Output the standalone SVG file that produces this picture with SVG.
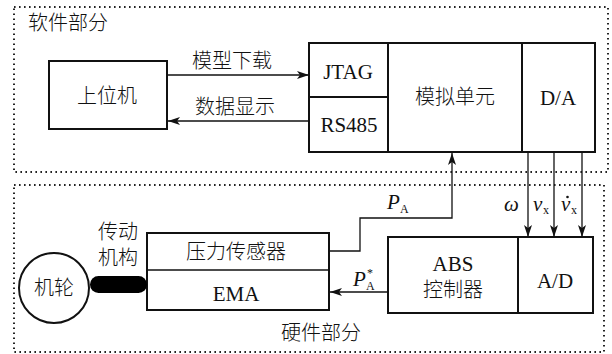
<svg xmlns="http://www.w3.org/2000/svg" width="612" height="354" viewBox="0 0 612 354">
<style>
.zone{fill:none;stroke:#222;stroke-width:2;stroke-dasharray:1.6 3.4}
.box{fill:#fff;stroke:#111;stroke-width:2}
.ln{fill:none;stroke:#111;stroke-width:1.3}
.zh{font-family:"Liberation Serif","Noto Sans CJK SC",serif;font-size:20px;font-weight:300;fill:#111;text-anchor:middle}
.en{font-family:"Liberation Serif",serif;font-size:21px;fill:#111;text-anchor:middle}
.it{font-family:"Liberation Serif",serif;font-style:italic;font-size:21px;fill:#111}
.sub{font-family:"Liberation Serif",serif;font-size:12px;fill:#111}
</style>
<defs>
<marker id="ah" viewBox="0 0 12 8" refX="12" refY="4" markerWidth="12" markerHeight="8" markerUnits="userSpaceOnUse" orient="auto">
<path d="M0,0 L12,4 L0,8 L3,4 Z" fill="#111"/>
</marker>
</defs>
<rect width="612" height="354" fill="#fff"/>
<g id="software">
<rect class="zone" x="14" y="7" width="594" height="165"/>
<text class="zh" x="28" y="30" style="text-anchor:start">软件部分</text>
</g>
<g id="hardware">
<rect class="zone" x="14" y="185" width="590" height="167"/>
<text class="zh" x="321" y="340">硬件部分</text>
</g>
<g id="host">
<rect class="box" x="49" y="61" width="118" height="68"/>
<text class="zh" x="107" y="103">上位机</text>
</g>
<g id="sim">
<rect class="box" x="309" y="43" width="286" height="109"/>
<line class="box" x1="388" y1="43" x2="388" y2="152"/>
<line class="box" x1="309" y1="97" x2="388" y2="97"/>
<line class="box" x1="522" y1="43" x2="522" y2="152"/>
<text class="en" x="348" y="79">JTAG</text>
<text class="en" x="349" y="132">RS485</text>
<text class="zh" x="455" y="104">模拟单元</text>
<text class="en" x="558" y="105">D/A</text>
</g>
<g id="ema">
<rect class="box" x="147" y="233" width="182" height="77"/>
<line class="box" x1="147" y1="270" x2="329" y2="270" style="stroke-width:1.3"/>
<text class="zh" x="236" y="259">压力传感器</text>
<text class="en" x="236" y="301">EMA</text>
</g>
<g id="abs">
<rect class="box" x="388" y="237" width="205" height="76"/>
<line class="box" x1="518" y1="237" x2="518" y2="313"/>
<text class="en" x="453" y="271">ABS</text>
<text class="zh" x="453" y="297">控制器</text>
<text class="en" x="555" y="288">A/D</text>
</g>
<g id="wheel">
<circle cx="54" cy="288" r="35" fill="#fff" stroke="#111" stroke-width="2"/>
<text class="zh" x="54" y="295">机轮</text>
</g>
<g id="actuator">
<rect x="90" y="276" width="57" height="17" rx="8.5" fill="#000"/>
<text class="zh" x="118" y="239">传动</text>
<text class="zh" x="118" y="265">机构</text>
</g>
<g id="connectors">
<line class="ln" x1="167" y1="75" x2="309" y2="75" marker-end="url(#ah)"/>
<text class="zh" x="232" y="68">模型下载</text>
<line class="ln" x1="309" y1="121" x2="168" y2="121" marker-end="url(#ah)"/>
<text class="zh" x="235" y="114">数据显示</text>
<polyline class="ln" points="329,251 360,251 360,218 452,218 452,153" marker-end="url(#ah)"/>
<text class="it" x="387" y="209">P</text><text class="sub" x="400" y="213">A</text>
<line class="ln" x1="388" y1="292" x2="330" y2="292" marker-end="url(#ah)"/>
<text class="it" x="353" y="286">P</text><text class="sub" x="366" y="290">A</text><text class="sub" x="367" y="277">*</text>
<line class="ln" x1="528" y1="152" x2="528" y2="237" marker-end="url(#ah)"/>
<line class="ln" x1="554" y1="152" x2="554" y2="237" marker-end="url(#ah)"/>
<line class="ln" x1="582" y1="152" x2="582" y2="237" marker-end="url(#ah)"/>
<text class="it" x="504" y="211">ω</text>
<text class="it" x="533" y="211">v</text><text class="sub" x="543" y="214">x</text>
<text class="it" x="561" y="211">v</text><text class="sub" x="571" y="214">x</text>
<circle cx="567.5" cy="197" r="1.3" fill="#111"/>
</g>
</svg>
